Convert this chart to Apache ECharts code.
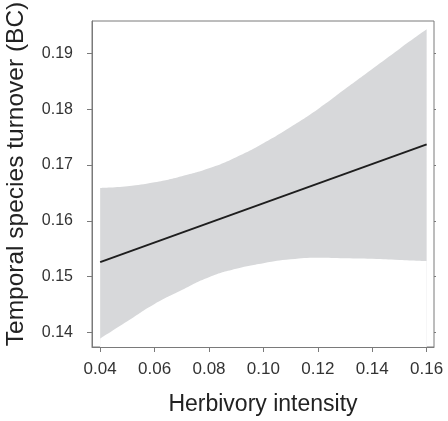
<!DOCTYPE html>
<html>
<head>
<meta charset="utf-8">
<script src="https://cdn.jsdelivr.net/npm/echarts@6/dist/echarts.min.js"></script>
<style>html,body{margin:0;padding:0;background:#fff}#c{width:448px;height:421px}</style>
</head>
<body>
<div id="c"></div>
<script>
// Data
const xValues = [0.04, 0.05, 0.06, 0.07, 0.08, 0.09, 0.10, 0.11, 0.12, 0.13, 0.14, 0.15, 0.16];
const ciUpper = [0.1659, 0.1662, 0.1669, 0.1680, 0.1694, 0.1714, 0.1739, 0.1768, 0.1800, 0.1836, 0.1872, 0.1908, 0.1943];
const ciLower = [0.1389, 0.1420, 0.1451, 0.1476, 0.1499, 0.1514, 0.1524, 0.1531, 0.1534, 0.1533, 0.1532, 0.1530, 0.1528];
const fitX = [0.04, 0.16];
const fitY = [0.1526, 0.1737];
const xTicks = [0.04, 0.06, 0.08, 0.10, 0.12, 0.14, 0.16];
const yTicks = [0.14, 0.15, 0.16, 0.17, 0.18, 0.19];
const xTitle = 'Herbivory intensity';
const yTitle = 'Temporal species turnover (BC)';

const chart = echarts.init(document.getElementById('c'), null, {renderer: 'canvas'});
const FONT = 'Liberation Sans, Arial, sans-serif';
const axisGrey = '#7a7a7a';

const upperData = xValues.map((x, i) => [x, ciUpper[i]]);
const lowerData = xValues.map((x, i) => [x, ciLower[i]]);
const fitData = fitX.map((x, i) => [x, fitY[i]]);

chart.setOption({
  animation: false,
  backgroundColor: '#fff',
  grid: {left: 92, top: 21, width: 342, height: 327, show: true, borderColor: axisGrey, borderWidth: 1, backgroundColor: 'transparent'},
  xAxis: {
    type: 'value', min: 0.037, max: 0.1627, z: 10,
    axisLine: {show: true, lineStyle: {color: axisGrey, width: 1}},
    axisTick: {show: true, length: 5, lineStyle: {color: axisGrey}, customValues: xTicks},
    axisLabel: {customValues: xTicks, formatter: v => v.toFixed(2), color: '#333', fontSize: 17, fontFamily: FONT, margin: 14},
    splitLine: {show: false},
    name: xTitle, nameLocation: 'middle', nameGap: 46,
    nameTextStyle: {color: '#222', fontSize: 23, fontFamily: FONT}
  },
  yAxis: [{
    type: 'value', min: 0.1374, max: 0.1958, z: 10,
    axisLine: {show: true, lineStyle: {color: axisGrey, width: 1}},
    axisTick: {show: true, length: 5, lineStyle: {color: axisGrey}, customValues: yTicks},
    axisLabel: {customValues: yTicks, formatter: v => v.toFixed(2), color: '#333', fontSize: 16, fontFamily: FONT, margin: 19},
    splitLine: {show: false}
  }, {
    type: 'value', min: 0.1374, max: 0.1958, position: 'right',
    axisLine: {show: false},
    axisTick: {show: true, length: 2, lineStyle: {color: axisGrey}, customValues: yTicks},
    axisLabel: {show: false},
    splitLine: {show: false}
  }],
  graphic: [{
    type: 'text', x: 16, y: 174, rotation: Math.PI / 2,
    style: {text: yTitle, font: '24.5px ' + FONT, fill: '#222', textAlign: 'center', textVerticalAlign: 'middle'}
  }],
  series: [{
    type: 'line', data: upperData, symbol: 'none', smooth: 0.5, smoothMonotone: 'none', z: 2,
    lineStyle: {width: 0, opacity: 0}, areaStyle: {color: '#d7d8da', opacity: 1, origin: 'start'}, silent: true
  }, {
    type: 'line', data: lowerData, symbol: 'none', smooth: 0.5, smoothMonotone: 'none', z: 3,
    lineStyle: {width: 0, opacity: 0}, areaStyle: {color: '#ffffff', opacity: 1, origin: 'start'}, silent: true
  }, {
    type: 'line', data: fitData, symbol: 'none', z: 5,
    lineStyle: {color: '#1e1e1e', width: 2}
  }]
});
</script>
</body>
</html>
